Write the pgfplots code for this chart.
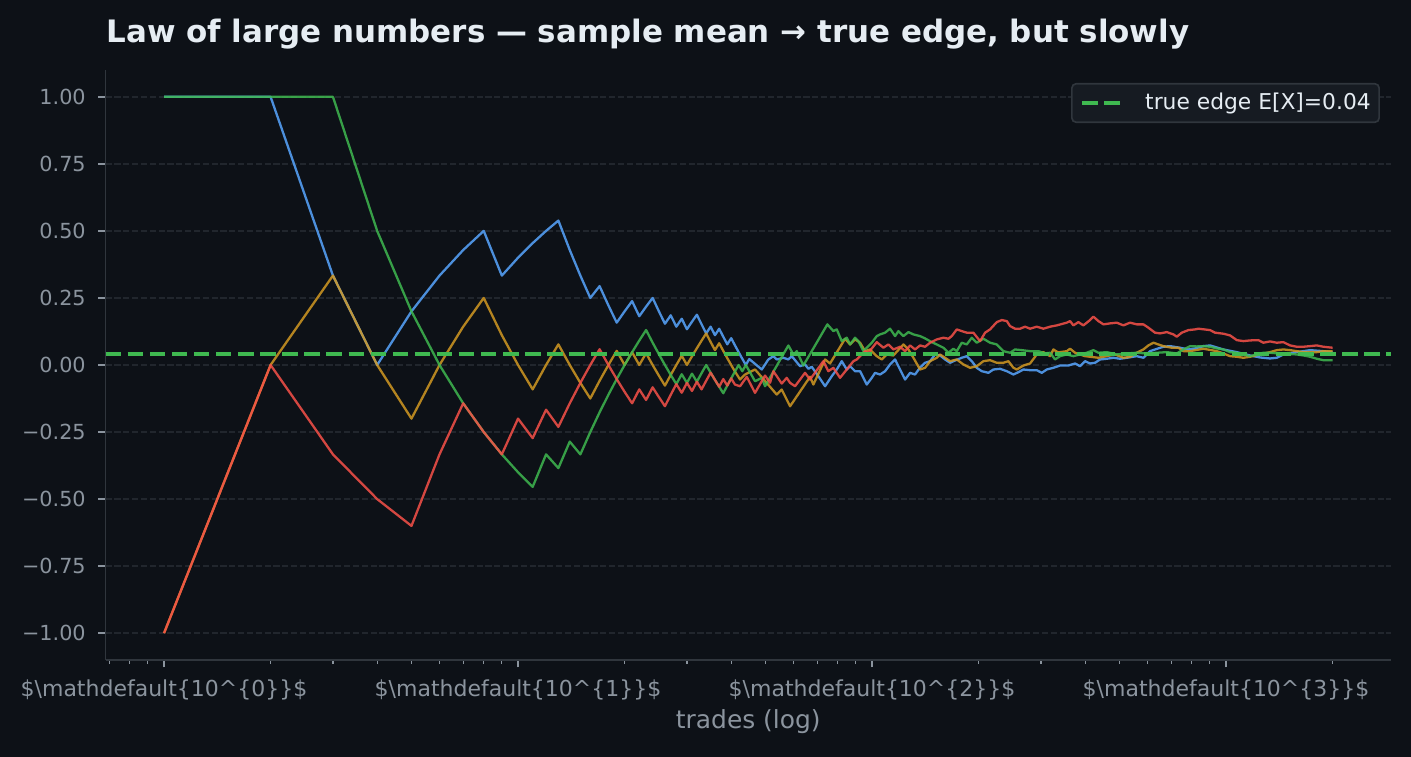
\documentclass[border=0pt]{standalone}
\usepackage{fontspec}
\setmainfont{DejaVu Sans}
\usepackage{pgfplots}
\usepackage{pgfplotstable}
\pgfplotsset{compat=1.18}
\definecolor{bg}{HTML}{0D1117}
\definecolor{gridc}{HTML}{21262D}
\definecolor{spine}{HTML}{30363D}
\definecolor{tickc}{HTML}{8B949E}
\definecolor{titlec}{HTML}{E6EDF3}
\definecolor{legbg}{HTML}{161B22}
\definecolor{sblue}{HTML}{58A6FF}
\definecolor{sred}{HTML}{F85149}
\definecolor{sgreen}{HTML}{3FB950}
\definecolor{sorange}{HTML}{D29922}
\newcommand\mdl[1]{\$\textbackslash mathdefault\{10\textasciicircum\{#1\}\}\$}

\pgfplotstableread{
n v
1 1
2 1
3 0.3333
4 0
5 0.2
6 0.3333
7 0.4286
8 0.5
9 0.3333
10 0.4
11 0.4545
12 0.5
13 0.5385
14 0.4286
15 0.3333
16 0.25
17 0.2941
18 0.2222
19 0.1579
20 0.2
21 0.2381
22 0.1818
23 0.2174
24 0.25
25 0.2
26 0.1538
27 0.1852
28 0.1429
29 0.1724
30 0.1333
31 0.1613
32 0.1875
33 0.1515
34 0.1176
35 0.1429
36 0.1111
37 0.1351
38 0.1053
39 0.0769
40 0.1
41 0.0732
42 0.0476
43 0.0233
44 0
45 0.0222
48.81 -0.0168
50.95 0.0206
52.64 0.0329
53.80 0.0206
56.17 0.0269
58.03 0.0206
59.32 0.0329
62.61 -0.0045
64.68 0.0019
66.10 -0.0142
67.56 -0.0067
70.54 -0.0419
73.67 -0.0793
76.96 -0.0419
79.49 -0.0168
82.12 0.0142
84.84 -0.0168
86.68 -0.0045
89.55 -0.0232
92.51 -0.0232
96.63 -0.0729
99.82 -0.0479
101.99 -0.0292
105.36 -0.0355
108.84 -0.0232
112.44 0.0019
116.16 0.0206
120.0 -0.0168
123.97 -0.0542
128.07 -0.0292
132.30 -0.0355
136.67 -0.0093
141.19 0.0082
145.86 0.0142
150.68 0.0393
155.66 0.0355
160.81 0.0206
166.12 0.0082
171.62 0.0168
179.26 0.0269
185.19 0.0329
191.32 0.0142
197.64 -0.0105
204.17 -0.0232
213.17 -0.0292
220.21 -0.0168
229.98 -0.0142
240.22 -0.0232
250.81 -0.0355
259.11 -0.0269
267.67 -0.0168
279.53 -0.0194
291.98 -0.0194
301.64 -0.0292
311.61 -0.0168
325.35 -0.0105
339.76 -0.0019
358.7 -0.0019
374.6 0.0056
386.9 -0.0045
399.7 0.0142
412.9 0.0056
426.6 0.0082
440.7 0.0206
460.4 0.0232
480.6 0.0269
501.9 0.0232
524.3 0.0269
559.5 0.0329
584.1 0.0269
610.0 0.0516
630.2 0.0579
665.4 0.0680
694.8 0.0703
741.5 0.0643
782.8 0.0579
817.5 0.0617
863.0 0.0703
901.3 0.0729
983.0 0.0579
1072.3 0.0479
1169.2 0.0355
1247.7 0.0280
1331.6 0.0243
1390.9 0.0269
1452.3 0.0393
1584.2 0.0479
1654.1 0.0516
1727.4 0.0553
1883.9 0.0516
2000 0.0479
}\blueT

\pgfplotstableread{
n v
1 -1
2 0
3 0.3333
4 0
5 -0.2
6 0
7 0.1429
8 0.25
9 0.1111
10 0
11 -0.0909
12 0
13 0.0769
14 0
15 -0.0667
16 -0.125
17 -0.0588
18 0
19 0.0526
20 0
21 0.0476
22 0
23 0.0435
24 0
25 -0.04
26 -0.0769
27 -0.037
28 0
29 0.0345
30 0
31 0.0323
32 0.0625
33 0.0909
34 0.1176
35 0.0857
36 0.0556
37 0.0811
38 0.0526
39 0.0256
40 0
41 -0.0244
42.38 -0.0542
43.78 -0.0355
46.72 -0.0168
48.90 -0.0467
53.80 -0.1103
55.58 -0.0916
58.67 -0.1540
66.82 -0.0441
68.28 -0.0729
73.67 0.0206
76.11 0.0056
83.91 0.0979
86.68 0.0766
89.55 0.0953
92.51 0.0830
95.57 0.0516
98.72 0.0579
103.12 0.0329
106.53 0.0206
110.05 0.0393
114.90 0.0355
122.63 0.0766
126.69 0.0579
130.88 0.0269
136.67 -0.0168
141.19 -0.0105
145.86 0.0142
152.36 0.0269
155.66 0.0393
160.81 0.0269
166.12 0.0142
173.53 0.0206
181.18 0.0019
189.21 -0.0105
197.64 -0.0045
206.35 0.0142
215.49 0.0179
225.10 0.0082
235.02 0.0082
242.79 0.0142
250.81 -0.0105
256.37 -0.0168
267.67 -0.0019
279.53 0.0056
291.98 0.0393
304.86 0.0479
318.37 0.0329
325.35 0.0579
335.4 0.0467
354.9 0.0516
362.6 0.0606
374.6 0.0456
399.7 0.0329
436.0 0.0269
485.8 0.0393
512.9 0.0269
535.6 0.0299
559.5 0.0456
584.1 0.0579
603.4 0.0729
623.4 0.0830
644.0 0.0766
665.4 0.0703
702.5 0.0643
733.5 0.0643
757.8 0.0516
791.4 0.0516
863.0 0.0606
941.5 0.0516
983.0 0.0430
1026.5 0.0329
1072.3 0.0307
1119.5 0.0269
1169.2 0.0307
1275.0 0.0430
1331.6 0.0479
1390.9 0.0553
1452.3 0.0579
1516.6 0.0553
1584.2 0.0516
1654.1 0.0479
1804.4 0.0479
1883.9 0.0516
2000 0.0516
}\orangeT

\pgfplotstableread{
n v
1 1
2 1
3 1
4 0.5
5 0.2
6 0
7 -0.1429
8 -0.25
9 -0.3333
10 -0.4
11 -0.4545
12 -0.3333
13 -0.3846
14 -0.2857
15 -0.3333
16 -0.25
17 -0.1765
18 -0.1111
19 -0.0526
20 0
21 0.0476
22 0.0909
23 0.1304
24 0.0833
25 0.04
26 0
27 -0.037
28 -0.0714
29 -0.0345
30 -0.0667
31 -0.0323
32 -0.0625
33 -0.0303
34 0
35 -0.0286
36 -0.0556
37 -0.0811
38 -0.1053
39 -0.0769
40 -0.05
41 -0.0244
42 0
43 -0.0233
44 0
46.72 -0.0606
48.81 -0.0479
49.86 -0.0793
58.03 0.0729
59.96 0.0393
61.28 0.0516
63.98 -0.0019
74.78 0.1514
77.78 0.1264
79.49 0.1327
82.12 0.0890
84.84 0.1017
86.68 0.0766
89.55 0.1017
91.51 0.0890
94.54 0.0516
96.63 0.0643
99.82 0.0830
103.12 0.1077
105.36 0.1140
108.84 0.1204
112.44 0.1353
116.16 0.1077
118.71 0.1264
122.63 0.1077
126.69 0.1226
130.88 0.1140
136.67 0.1077
141.19 0.0991
147.48 0.0852
152.36 0.0766
159.07 0.0643
164.34 0.0456
169.76 0.0606
173.53 0.0516
179.26 0.0830
185.19 0.0766
191.32 0.1017
197.64 0.0830
206.35 0.0979
215.49 0.0830
225.10 0.0766
235.02 0.0516
245.43 0.0456
253.55 0.0579
264.85 0.0553
279.53 0.0516
295.10 0.0516
308.18 0.0430
318.37 0.0456
328.89 0.0206
339.76 0.0329
354.9 0.0393
370.5 0.0329
386.9 0.0393
404.1 0.0456
422.0 0.0553
436.0 0.0456
460.4 0.0479
491.2 0.0393
524.3 0.0430
559.5 0.0456
597.1 0.0430
637.2 0.0456
680.1 0.0479
725.8 0.0430
757.8 0.0579
791.4 0.0703
826.6 0.0692
863.0 0.0703
901.3 0.0680
941.5 0.0617
983.0 0.0579
1026.5 0.0479
1072.3 0.0456
1119.5 0.0393
1169.2 0.0329
1221.2 0.0393
1275.0 0.0456
1331.6 0.0456
1452.3 0.0419
1584.2 0.0393
1654.1 0.0355
1727.4 0.0307
1804.4 0.0232
1883.9 0.0179
2000 0.0179
}\greenT

\pgfplotstableread{
n v
1 -1
2 0
3 -0.3333
4 -0.5
5 -0.6
6 -0.3333
7 -0.1429
8 -0.25
9 -0.3333
10 -0.2
11 -0.2727
12 -0.1667
13 -0.2308
14 -0.1429
15 -0.0667
16 0
17 0.0588
18 0
19 -0.0526
20 -0.1
21 -0.1429
22 -0.0909
23 -0.1304
24 -0.0833
25 -0.12
26 -0.1538
27 -0.1111
28 -0.0714
29 -0.1034
30 -0.0667
31 -0.0968
32 -0.0625
33 -0.0909
34 -0.0588
35 -0.0286
36 -0.0556
37 -0.0811
38 -0.0526
39 -0.0769
40 -0.05
41 -0.0732
42.38 -0.0793
44.27 -0.0441
46.72 -0.1039
49.86 -0.0393
51.51 -0.0665
52.64 -0.0232
55.58 -0.0692
57.42 -0.0479
58.67 -0.0665
60.61 -0.0793
64.68 -0.0292
66.82 -0.0542
72.87 0.0142
75.28 -0.0232
77.78 -0.0105
81.22 -0.0479
88.58 0.0142
90.55 0.0206
95.57 0.0516
97.66 0.0456
103.12 0.0852
107.67 0.0643
111.23 0.0766
114.90 0.0579
120 0.0680
123.97 0.0516
128.07 0.0729
132.30 0.0579
136.67 0.0729
141.19 0.0680
145.86 0.0830
152.36 0.0953
159.07 0.1017
164.34 0.0979
167.97 0.1077
173.53 0.1327
179.26 0.1264
185.19 0.1204
193.36 0.1204
201.92 0.0890
208.60 0.1204
215.49 0.1327
225.10 0.1600
232.54 0.1675
240.22 0.1637
245.43 0.1450
253.55 0.1353
261.93 0.1353
270.59 0.1428
279.53 0.1353
291.98 0.1428
304.86 0.1353
318.37 0.1428
332.55 0.1477
354.9 0.1578
362.6 0.1637
370.5 0.1477
382.8 0.1600
395.4 0.1477
412.9 0.1675
422.0 0.1802
436.0 0.1637
450.4 0.1514
470.3 0.1551
491.2 0.1578
512.9 0.1477
535.6 0.1578
559.5 0.1514
584.1 0.1514
603.4 0.1391
630.2 0.1204
651.1 0.1178
680.1 0.1226
710.0 0.1140
725.8 0.1054
749.8 0.1204
782.8 0.1301
817.5 0.1327
835.4 0.1353
901.3 0.1301
931.1 0.1204
983.0 0.1166
1026.5 0.1103
1072.3 0.0927
1119.5 0.0890
1169.2 0.0916
1234.3 0.0927
1275.0 0.0830
1331.6 0.0879
1390.9 0.0830
1452.3 0.0852
1516.6 0.0729
1584.2 0.0680
1654.1 0.0680
1727.4 0.0703
1804.4 0.0729
1883.9 0.0680
2000 0.0643
}\redT

\begin{document}
\begin{tikzpicture}
\path[use as bounding box] (-50.7bp,-46.1bp) rectangle (626.6bp,316.8bp);
\fill[bg] (-53bp,-49bp) rectangle (629bp,319bp);
\begin{axis}[
  at={(0,0)}, anchor=south west,
  width=617bp, height=283.2bp, scale only axis,
  xmode=log, xmin=0.6839, xmax=2924, ymin=-1.1, ymax=1.1,
  axis lines=left, axis line style={-, draw=spine, line width=0.8bp},
  xtick={1,10,100,1000},
  xticklabels={\mdl{0},\mdl{1},\mdl{2},\mdl{3}},
  minor xtick={0.7,0.8,0.9,2,3,4,5,6,7,8,9,20,30,40,50,60,70,80,90,200,300,400,500,600,700,800,900,2000},
  ytick={-1,-0.75,-0.5,-0.25,0,0.25,0.5,0.75,1},
  yticklabels={−1.00,−0.75,−0.50,−0.25,0.00,0.25,0.50,0.75,1.00},
  tick align=outside, major tick length=3.5bp, minor tick length=2bp,
  every tick/.style={draw=tickc, line width=0.8bp},
  minor tick style={line width=0.6bp},
  xticklabel style={font=\fontsize{10.6}{12}\selectfont, text=tickc, anchor=base, inner sep=0pt, yshift=-14.1bp},
  yticklabel style={font=\fontsize{10}{12}\selectfont, text=tickc, anchor=east, inner sep=0pt, xshift=-5.9bp},
  ymajorgrids,
  major grid style={draw=gridc, line width=0.8bp, dash pattern=on 2.96bp off 1.28bp},
  legend style={at={(0.9914,0.978)}, anchor=north east, fill=legbg, draw=spine, line width=0.8bp,
    rounded corners=2bp, text=titlec, font=\fontsize{10.5}{12}\selectfont,
    inner xsep=4bp, inner ysep=4.5bp, column sep=10bp,
    nodes={inner sep=0pt}},
  legend image code/.code={\draw[#1] (0bp,0bp) -- (19.2bp,0bp);},
]
\addplot[sblue, line width=1.1bp, opacity=0.85, line join=round, forget plot] table[x=n,y=v] {\blueT};
\addplot[sorange, line width=1.1bp, opacity=0.85, line join=round, forget plot] table[x=n,y=v] {\orangeT};
\addplot[sgreen, line width=1.1bp, opacity=0.85, line join=round, forget plot] table[x=n,y=v] {\greenT};
\addplot[sred, line width=1.1bp, opacity=0.85, line join=round, forget plot] table[x=n,y=v] {\redT};
\addplot[sgreen, line width=2bp, dash pattern=on 7.4bp off 3.2bp] coordinates {(0.6839,0.04) (2924,0.04)};
\addlegendentry{true edge E[X]=0.04}
\end{axis}
\node[anchor=base west, inner sep=0pt, font=\bfseries\fontsize{14.9}{18}\selectfont, text=titlec] at (0.2bp,296.3bp) {Law of large numbers — sample mean → true edge, but slowly};
\node[anchor=base, font=\fontsize{12}{14}\selectfont, text=tickc] at (308.5bp,-33.1bp) {trades (log)};
\end{tikzpicture}
\end{document}
